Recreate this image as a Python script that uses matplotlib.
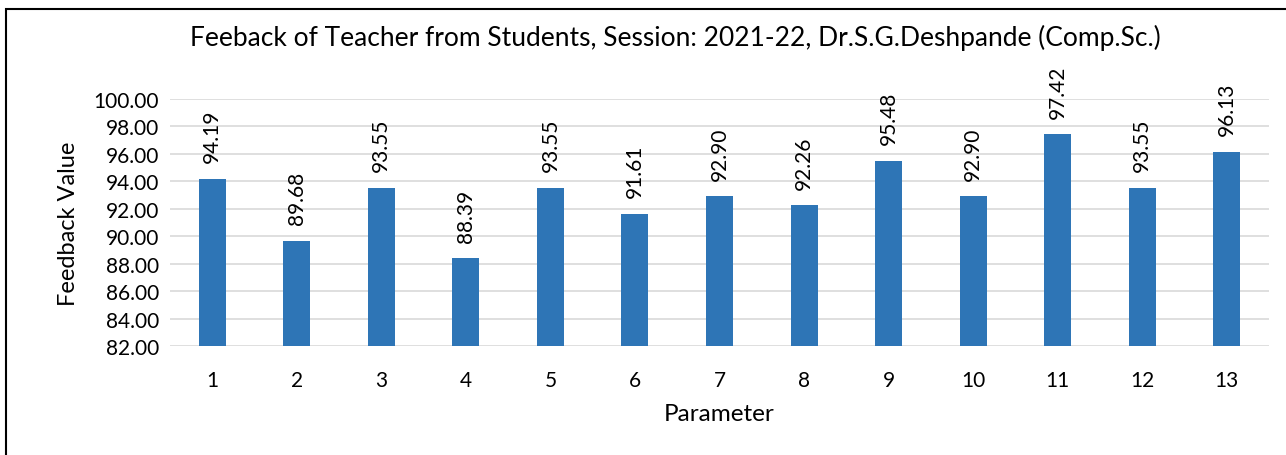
import matplotlib.pyplot as plt
from matplotlib.patches import Rectangle

params = [str(i) for i in range(1, 14)]
values = [94.19, 89.68, 93.55, 88.39, 93.55, 91.61, 92.90, 92.26, 95.48, 92.90, 97.42, 93.55, 96.13]

plt.rcParams['font.family'] = ['Lato', 'DejaVu Sans']

fig = plt.figure(figsize=(12.86, 4.56), dpi=100)
ax = fig.add_axes([170 / 1286, 1 - 347 / 456, (1269 - 170) / 1286, (347 - 100) / 456])

x = range(len(params))
ax.bar(x, values, width=0.32, color='#2e75b6', zorder=3)
for xi, v in zip(x, values):
    ax.annotate(f"{v:.2f}", (xi, v), xytext=(0, 12), textcoords='offset points',
                rotation=90, ha='center', va='bottom', fontsize=15, color='#000000',
                annotation_clip=False)

ax.set_ylim(82, 100)
ax.set_xlim(-0.5, len(params) - 0.5)
ax.set_yticks(range(82, 101, 2))
ax.set_yticklabels([f"{t:.2f}" for t in range(82, 101, 2)], fontsize=15)
ax.set_xticks(list(x))
ax.set_xticklabels(params, fontsize=15)
ax.tick_params(length=0, pad=8)
ax.tick_params(axis='x', pad=17)
ax.grid(axis='y', color='#d9d9d9', linewidth=1.2, zorder=0)
for s in ax.spines.values():
    s.set_visible(False)

ax.set_xlabel("Parameter", fontsize=17.5, labelpad=10)
ax.set_ylabel("Feedback Value", fontsize=17, labelpad=10)
fig.text(675 / 1286, 1 - 38 / 456, "Feeback of Teacher from Students, Session: 2021-22, Dr.S.G.Deshpande (Comp.Sc.)",
         ha='center', va='center', fontsize=19)

fig.patches.append(Rectangle((6 / 1286, -0.1), 1.2, 1 - 10 / 456 + 0.1, transform=fig.transFigure,
                             fill=False, edgecolor='black', linewidth=1.5))

fig.savefig("out.png", dpi=100)
